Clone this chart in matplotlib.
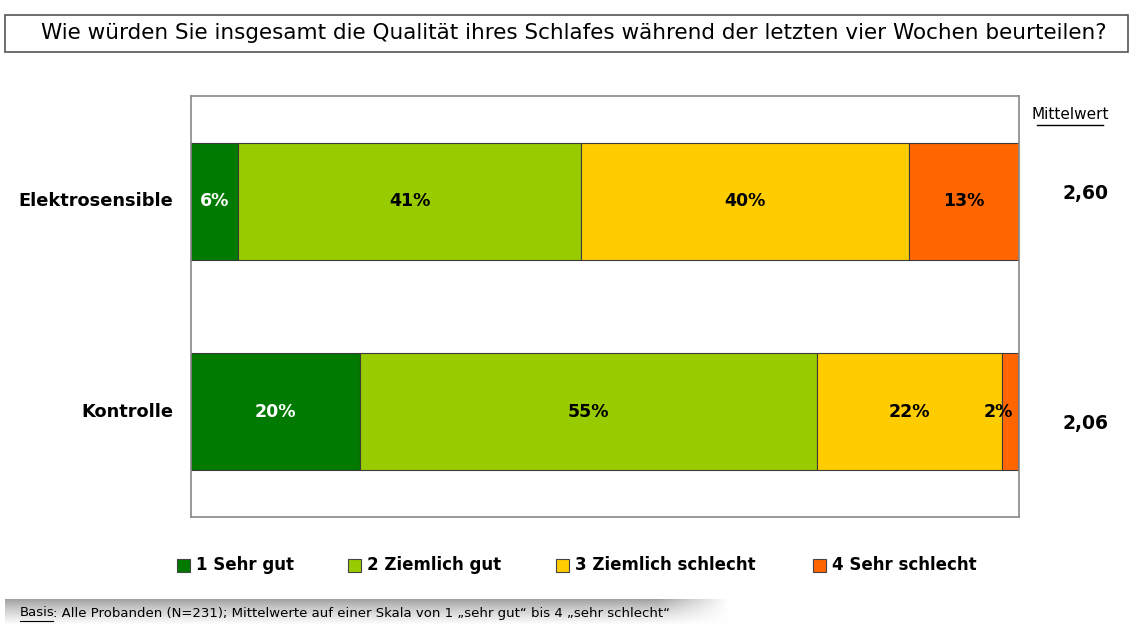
import numpy as np
import matplotlib.pyplot as plt
from matplotlib.patches import Rectangle

# data
groups = ["Elektrosensible", "Kontrolle"]
categories = ["1 Sehr gut", "2 Ziemlich gut", "3 Ziemlich schlecht", "4 Sehr schlecht"]
elektro = [5.7, 41.4, 39.6, 13.3]
kontrolle = [20.4, 55.2, 22.4, 1.9]
means = ["2,60", "2,06"]
colors = ["#007A00", "#99CC00", "#FFCC00", "#FF6600"]
label_colors = ["white", "black", "black", "black"]

title = "Wie würden Sie insgesamt die Qualität ihres Schlafes während der letzten vier Wochen beurteilen?"
footer = "Alle Probanden (N=231); Mittelwerte auf einer Skala von 1 \u201esehr gut\u201c bis 4 \u201esehr schlecht\u201c"

W, H = 1134, 625
fig = plt.figure(figsize=(W / 100, H / 100), dpi=100)
plt.rcParams['font.family'] = ['DejaVu Sans']

# plot area in pixels: left 191, right 1019, top 96, bottom 517
ax = fig.add_axes([191 / W, 1 - 517 / H, (1019 - 191) / W, (517 - 96) / H])
ax.set_xlim(0, 100)
ax.set_ylim(1.5, -0.5)

data = np.array([elektro, kontrolle])
for i, g in enumerate(groups):
    left = 0
    for j, v in enumerate(data[i]):
        ax.barh(i, v, left=left, height=0.555, color=colors[j],
                edgecolor="#3a3a3a", linewidth=0.8)
        x = left + v / 2
        if v < 3:
            x = left + v / 2 - 1.5  # tiny slice: label sits a bit to the left
        ax.text(x, i, f"{v:.0f}%", ha="center", va="center",
                fontsize=12.5, fontweight="bold", color=label_colors[j], clip_on=False)
        left += v
    ax.text(-2.1, i, g, ha="right", va="center", fontsize=12.8, fontweight="bold",
            clip_on=False)

ax.set_xticks([])
ax.set_yticks([])
for s in ax.spines.values():
    s.set_color("#888888")
    s.set_linewidth(1.2)

# Mittelwert column
fig.text(1070 / W, 1 - 115 / H, "Mittelwert", ha="center", va="center", fontsize=11)
fig.add_artist(plt.Line2D([1037 / W, 1103 / W], [1 - 125 / H, 1 - 125 / H],
                          color="black", linewidth=1))
fig.text(1085 / W, 1 - 193 / H, means[0], ha="center", va="center",
         fontsize=13.5, fontweight="bold")
fig.text(1085 / W, 1 - 423 / H, means[1], ha="center", va="center",
         fontsize=13.5, fontweight="bold")

# title box
fig.add_artist(Rectangle((5 / W, 1 - 52 / H), (1128 - 5) / W, 37 / H, transform=fig.transFigure,
                         facecolor="white", edgecolor="#555555", linewidth=1.2))
fig.text(574 / W, 1 - 33 / H, title, ha="center", va="center", fontsize=15.5)

# legend
legend_x = [177, 348, 556, 813]
for x, c, lab in zip(legend_x, colors, categories):
    fig.add_artist(Rectangle((x / W, 1 - 572 / H), 13 / W, 13 / H, transform=fig.transFigure,
                             facecolor=c, edgecolor="#444444", linewidth=0.8))
    fig.text((x + 19) / W, 1 - 565 / H, lab, ha="left", va="center",
             fontsize=12, fontweight="bold")

# footer with grey gradient bar
rows = np.linspace(0, 1, 50)[:, None]
cols = np.linspace(0, 1, 200)[None, :]
shade = 0.62 + 0.38 * rows ** 0.8
fade = np.clip((cols - 0.9) / 0.1, 0, 1)
shade = shade + (1 - shade) * fade
img = np.dstack([shade, shade, shade])
fax = fig.add_axes([5 / W, 0, 725 / W, 26 / H])
fax.imshow(img, aspect="auto", extent=[0, 1, 0, 1], origin="upper")
fax.axis("off")
fig.text(20 / W, 1 - 613 / H, "Basis", ha="left", va="center", fontsize=9.5)
fig.add_artist(plt.Line2D([20 / W, 53 / W], [1 - 621 / H, 1 - 621 / H],
                          color="black", linewidth=0.8))
fig.text(53 / W, 1 - 613 / H, ": " + footer, ha="left", va="center", fontsize=9.5)

fig.savefig("out.png", dpi=100)
